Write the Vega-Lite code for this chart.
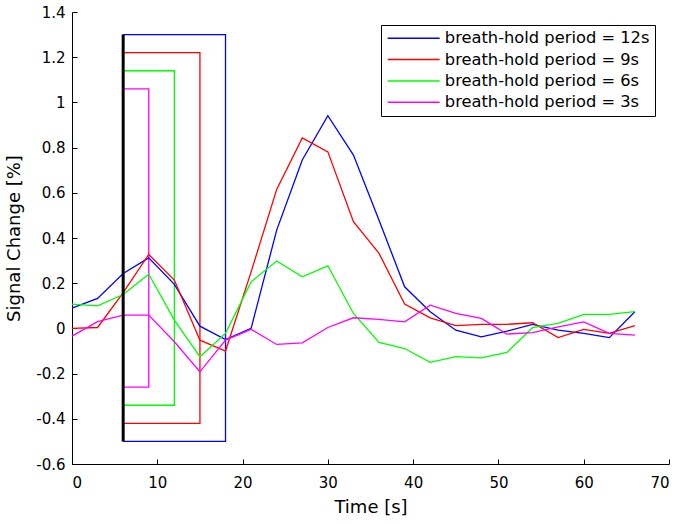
{
  "$schema": "https://vega.github.io/schema/vega-lite/v6.json",
  "autosize": "none",
  "width": 597,
  "height": 452,
  "padding": {"left": 72, "top": 12, "right": 16, "bottom": 60},
  "background": "white",
  "config": {
    "view": {"stroke": null},
    "font": "DejaVu Sans",
    "axis": {
      "grid": false,
      "domainColor": "black",
      "tickColor": "black",
      "labelColor": "black",
      "titleColor": "black",
      "labelFont": "DejaVu Sans",
      "titleFont": "DejaVu Sans",
      "labelFontSize": 15,
      "titleFontSize": 18,
      "titleFontWeight": "normal",
      "tickSize": -5,
      "labelPadding": 12
    }
  },
  "datasets": {
    "curves": [
      {"s": "breath-hold period = 12s", "t": 0, "v": 0.09},
      {"s": "breath-hold period = 12s", "t": 3, "v": 0.133},
      {"s": "breath-hold period = 12s", "t": 6, "v": 0.243},
      {"s": "breath-hold period = 12s", "t": 9, "v": 0.312},
      {"s": "breath-hold period = 12s", "t": 12, "v": 0.195},
      {"s": "breath-hold period = 12s", "t": 15, "v": 0.01},
      {"s": "breath-hold period = 12s", "t": 18, "v": -0.049},
      {"s": "breath-hold period = 12s", "t": 21, "v": 0.0},
      {"s": "breath-hold period = 12s", "t": 24, "v": 0.435},
      {"s": "breath-hold period = 12s", "t": 27, "v": 0.745},
      {"s": "breath-hold period = 12s", "t": 30, "v": 0.941},
      {"s": "breath-hold period = 12s", "t": 33, "v": 0.767},
      {"s": "breath-hold period = 12s", "t": 36, "v": 0.479},
      {"s": "breath-hold period = 12s", "t": 39, "v": 0.184},
      {"s": "breath-hold period = 12s", "t": 42, "v": 0.074},
      {"s": "breath-hold period = 12s", "t": 45, "v": -0.008},
      {"s": "breath-hold period = 12s", "t": 48, "v": -0.037},
      {"s": "breath-hold period = 12s", "t": 51, "v": -0.012},
      {"s": "breath-hold period = 12s", "t": 54, "v": 0.018},
      {"s": "breath-hold period = 12s", "t": 57, "v": -0.008},
      {"s": "breath-hold period = 12s", "t": 60, "v": -0.022},
      {"s": "breath-hold period = 12s", "t": 63, "v": -0.041},
      {"s": "breath-hold period = 12s", "t": 66, "v": 0.074},
      {"s": "breath-hold period = 9s", "t": 0, "v": 0.0},
      {"s": "breath-hold period = 9s", "t": 3, "v": 0.004},
      {"s": "breath-hold period = 9s", "t": 6, "v": 0.158},
      {"s": "breath-hold period = 9s", "t": 9, "v": 0.327},
      {"s": "breath-hold period = 9s", "t": 12, "v": 0.214},
      {"s": "breath-hold period = 9s", "t": 15, "v": -0.052},
      {"s": "breath-hold period = 9s", "t": 18, "v": -0.1},
      {"s": "breath-hold period = 9s", "t": 21, "v": 0.25},
      {"s": "breath-hold period = 9s", "t": 24, "v": 0.615},
      {"s": "breath-hold period = 9s", "t": 27, "v": 0.843},
      {"s": "breath-hold period = 9s", "t": 30, "v": 0.781},
      {"s": "breath-hold period = 9s", "t": 33, "v": 0.472},
      {"s": "breath-hold period = 9s", "t": 36, "v": 0.332},
      {"s": "breath-hold period = 9s", "t": 39, "v": 0.108},
      {"s": "breath-hold period = 9s", "t": 42, "v": 0.047},
      {"s": "breath-hold period = 9s", "t": 45, "v": 0.012},
      {"s": "breath-hold period = 9s", "t": 48, "v": 0.018},
      {"s": "breath-hold period = 9s", "t": 51, "v": 0.018},
      {"s": "breath-hold period = 9s", "t": 54, "v": 0.025},
      {"s": "breath-hold period = 9s", "t": 57, "v": -0.041},
      {"s": "breath-hold period = 9s", "t": 60, "v": -0.004},
      {"s": "breath-hold period = 9s", "t": 63, "v": -0.022},
      {"s": "breath-hold period = 9s", "t": 66, "v": 0.012},
      {"s": "breath-hold period = 6s", "t": 0, "v": 0.107},
      {"s": "breath-hold period = 6s", "t": 3, "v": 0.1},
      {"s": "breath-hold period = 6s", "t": 6, "v": 0.15},
      {"s": "breath-hold period = 6s", "t": 9, "v": 0.24},
      {"s": "breath-hold period = 6s", "t": 12, "v": 0.037},
      {"s": "breath-hold period = 6s", "t": 15, "v": -0.125},
      {"s": "breath-hold period = 6s", "t": 18, "v": -0.022},
      {"s": "breath-hold period = 6s", "t": 21, "v": 0.206},
      {"s": "breath-hold period = 6s", "t": 24, "v": 0.298},
      {"s": "breath-hold period = 6s", "t": 27, "v": 0.228},
      {"s": "breath-hold period = 6s", "t": 30, "v": 0.277},
      {"s": "breath-hold period = 6s", "t": 33, "v": 0.066},
      {"s": "breath-hold period = 6s", "t": 36, "v": -0.062},
      {"s": "breath-hold period = 6s", "t": 39, "v": -0.089},
      {"s": "breath-hold period = 6s", "t": 42, "v": -0.15},
      {"s": "breath-hold period = 6s", "t": 45, "v": -0.125},
      {"s": "breath-hold period = 6s", "t": 48, "v": -0.13},
      {"s": "breath-hold period = 6s", "t": 51, "v": -0.106},
      {"s": "breath-hold period = 6s", "t": 54, "v": 0.003},
      {"s": "breath-hold period = 6s", "t": 57, "v": 0.022},
      {"s": "breath-hold period = 6s", "t": 60, "v": 0.062},
      {"s": "breath-hold period = 6s", "t": 63, "v": 0.062},
      {"s": "breath-hold period = 6s", "t": 66, "v": 0.074},
      {"s": "breath-hold period = 3s", "t": 0, "v": -0.034},
      {"s": "breath-hold period = 3s", "t": 3, "v": 0.03},
      {"s": "breath-hold period = 3s", "t": 6, "v": 0.059},
      {"s": "breath-hold period = 3s", "t": 9, "v": 0.059},
      {"s": "breath-hold period = 3s", "t": 12, "v": -0.059},
      {"s": "breath-hold period = 3s", "t": 15, "v": -0.192},
      {"s": "breath-hold period = 3s", "t": 18, "v": -0.052},
      {"s": "breath-hold period = 3s", "t": 21, "v": -0.004},
      {"s": "breath-hold period = 3s", "t": 24, "v": -0.071},
      {"s": "breath-hold period = 3s", "t": 27, "v": -0.064},
      {"s": "breath-hold period = 3s", "t": 30, "v": 0.004},
      {"s": "breath-hold period = 3s", "t": 33, "v": 0.047},
      {"s": "breath-hold period = 3s", "t": 36, "v": 0.04},
      {"s": "breath-hold period = 3s", "t": 39, "v": 0.029},
      {"s": "breath-hold period = 3s", "t": 42, "v": 0.103},
      {"s": "breath-hold period = 3s", "t": 45, "v": 0.066},
      {"s": "breath-hold period = 3s", "t": 48, "v": 0.044},
      {"s": "breath-hold period = 3s", "t": 51, "v": -0.025},
      {"s": "breath-hold period = 3s", "t": 54, "v": -0.019},
      {"s": "breath-hold period = 3s", "t": 57, "v": 0.007},
      {"s": "breath-hold period = 3s", "t": 60, "v": 0.029},
      {"s": "breath-hold period = 3s", "t": 63, "v": -0.022},
      {"s": "breath-hold period = 3s", "t": 66, "v": -0.03}
    ],
    "boxes": [
      {"s": "breath-hold period = 12s", "k": 1, "t": 6, "v": 1.3},
      {"s": "breath-hold period = 12s", "k": 2, "t": 18, "v": 1.3},
      {"s": "breath-hold period = 12s", "k": 3, "t": 18, "v": -0.5},
      {"s": "breath-hold period = 12s", "k": 4, "t": 6, "v": -0.5},
      {"s": "breath-hold period = 9s", "k": 1, "t": 6, "v": 1.22},
      {"s": "breath-hold period = 9s", "k": 2, "t": 15, "v": 1.22},
      {"s": "breath-hold period = 9s", "k": 3, "t": 15, "v": -0.42},
      {"s": "breath-hold period = 9s", "k": 4, "t": 6, "v": -0.42},
      {"s": "breath-hold period = 6s", "k": 1, "t": 6, "v": 1.14},
      {"s": "breath-hold period = 6s", "k": 2, "t": 12, "v": 1.14},
      {"s": "breath-hold period = 6s", "k": 3, "t": 12, "v": -0.34},
      {"s": "breath-hold period = 6s", "k": 4, "t": 6, "v": -0.34},
      {"s": "breath-hold period = 3s", "k": 1, "t": 6, "v": 1.06},
      {"s": "breath-hold period = 3s", "k": 2, "t": 9, "v": 1.06},
      {"s": "breath-hold period = 3s", "k": 3, "t": 9, "v": -0.26},
      {"s": "breath-hold period = 3s", "k": 4, "t": 6, "v": -0.26}
    ],
    "onset": [{"t": 6, "lo": -0.5, "hi": 1.3}]
  },
  "layer": [
    {
      "data": {"name": "boxes"},
      "mark": {"type": "line", "strokeWidth": 1.3},
      "encoding": {
        "x": {"field": "t", "type": "quantitative"},
        "y": {"field": "v", "type": "quantitative"},
        "color": {
          "field": "s", "type": "nominal",
          "scale": {
            "domain": ["breath-hold period = 12s", "breath-hold period = 9s", "breath-hold period = 6s", "breath-hold period = 3s"],
            "range": ["#0000ff", "#ff0000", "#00ff00", "#ff00ff"]
          },
          "legend": {
            "title": null,
            "orient": "none",
            "legendX": 309,
            "legendY": 13,
            "direction": "vertical",
            "symbolType": "M-4,0H4",
            "symbolSize": 169,
            "symbolOffset": 19.5,
            "symbolStrokeWidth": 1.5,
            "symbolFillColor": "transparent",
            "labelFont": "DejaVu Sans",
            "labelFontSize": 16.3,
            "labelColor": "black",
            "labelOffset": 23,
            "labelLimit": 400,
            "rowPadding": 4.4,
            "padding": 5,
            "strokeColor": "black",
            "fillColor": "white"
          }
        },
        "order": {"field": "k", "type": "quantitative"}
      }
    },
    {
      "data": {"name": "curves"},
      "mark": {"type": "line", "strokeWidth": 1.3},
      "encoding": {
        "x": {
          "field": "t", "type": "quantitative",
          "scale": {"domain": [0, 70], "nice": false, "zero": false},
          "axis": {"values": [0, 10, 20, 30, 40, 50, 60, 70], "title": "Time [s]", "titleY": 43, "titleBaseline": "middle", "labelPadding": 16}
        },
        "y": {
          "field": "v", "type": "quantitative",
          "scale": {"domain": [-0.6, 1.4], "nice": false, "zero": false},
          "axis": {
            "values": [-0.6, -0.4, -0.2, 0, 0.2, 0.4, 0.6, 0.8, 1, 1.2, 1.4],
            "labelExpr": "'' + round(datum.value * 10) / 10",
            "title": "Signal Change [%]",
            "titleX": -58, "titleY": 226, "titleAlign": "center", "titleBaseline": "middle", "titleAngle": -90
          }
        },
        "color": {"field": "s", "type": "nominal"},
        "order": {"field": "t", "type": "quantitative"}
      }
    },
    {
      "data": {"name": "onset"},
      "mark": {"type": "rule", "color": "black", "strokeWidth": 3},
      "encoding": {
        "x": {"field": "t", "type": "quantitative"},
        "y": {"field": "lo", "type": "quantitative"},
        "y2": {"field": "hi"}
      }
    }
  ]
}
